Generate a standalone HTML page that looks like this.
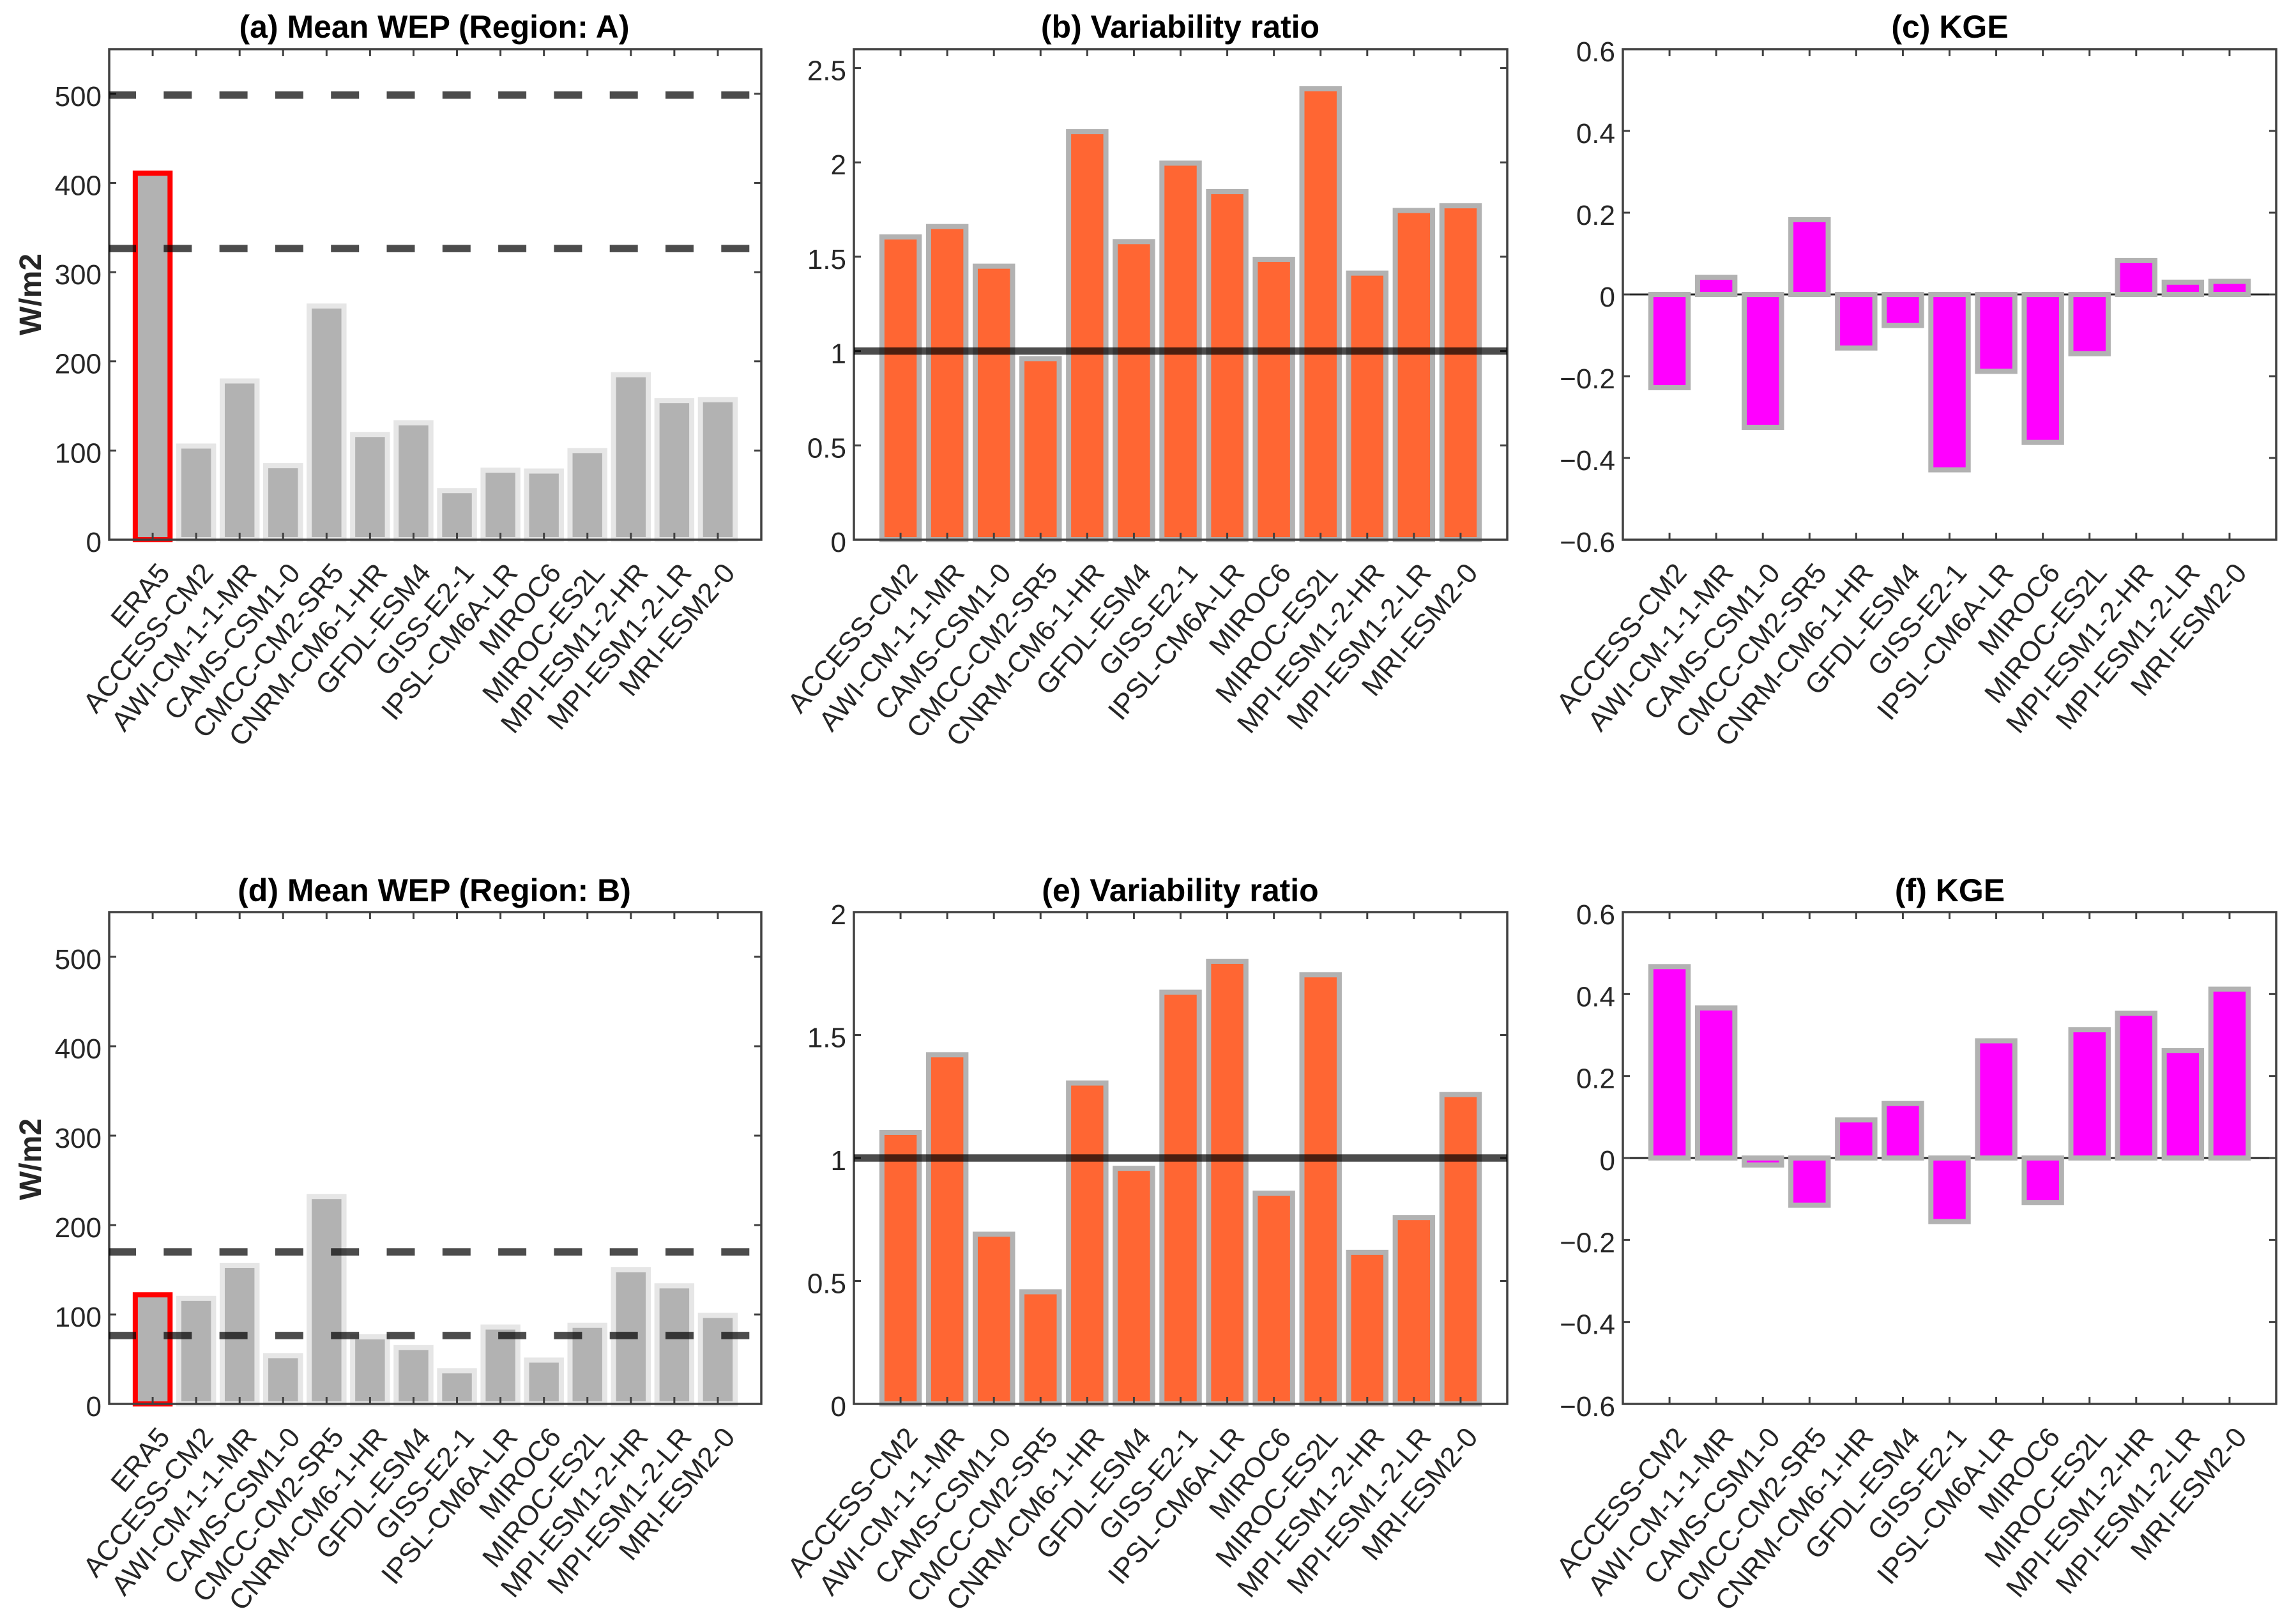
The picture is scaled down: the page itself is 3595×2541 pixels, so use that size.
<!DOCTYPE html>
<html lang="en">
<head>
<meta charset="utf-8">
<title>Climate model evaluation bar charts</title>
<style>
html,body{margin:0;padding:0;background:#fff;}
svg{display:block;font-family:"Liberation Sans",Arial,sans-serif;}
.title{font-size:50px;font-weight:bold;fill:#000;text-anchor:middle;}
.ylab{font-size:48px;font-weight:bold;fill:#262626;text-anchor:middle;}
.ytick{font-size:44px;fill:#262626;text-anchor:end;}
.xtick{font-size:44px;fill:#262626;text-anchor:end;}
</style>
</head>
<body>
<svg id="figure" xmlns="http://www.w3.org/2000/svg" width="3595" height="2541" viewBox="0 0 3595 2541">
  <rect x="0" y="0" width="3595" height="2541" fill="#ffffff"/>
  <g id="panel-a"></g>
  <g id="panel-b"></g>
  <g id="panel-c"></g>
  <g id="panel-d"></g>
  <g id="panel-e"></g>
  <g id="panel-f"></g>
  <text class="title" x="680" y="59">(a) Mean WEP (Region: A)</text>
  <text class="title" x="1848" y="59">(b) Variability ratio</text>
  <text class="title" x="3053" y="59">(c) KGE</text>
  <text class="title" x="680" y="1411">(d) Mean WEP (Region: B)</text>
  <text class="title" x="1848" y="1411">(e) Variability ratio</text>
  <text class="title" x="3053" y="1411">(f) KGE</text>
  <text class="ylab" transform="translate(64,461) rotate(-90)">W/m2</text>
  <text class="ylab" transform="translate(64,1815) rotate(-90)">W/m2</text>
</svg>
<script>
// ---- categories ----
const modelNames = ['ACCESS-CM2','AWI-CM-1-1-MR','CAMS-CSM1-0','CMCC-CM2-SR5','CNRM-CM6-1-HR','GFDL-ESM4','GISS-E2-1','IPSL-CM6A-LR','MIROC6','MIROC-ES2L','MPI-ESM1-2-HR','MPI-ESM1-2-LR','MRI-ESM2-0'];
const wepNames = ['ERA5'].concat(modelNames);

// ---- series values ----
const wepRegionA = [411,105,178,83,262,118,131,55,78,77,100,185,156,157];
const wepRegionB = [122,118,155,54,232,75,63,37,86,49,88,150,132,99];
const variabilityA = [1.605,1.66,1.45,0.96,2.163,1.58,1.996,1.845,1.486,2.39,1.413,1.745,1.77];
const variabilityB = [1.104,1.42,0.69,0.456,1.305,0.958,1.674,1.80,0.857,1.745,0.616,0.758,1.258];
const kgeA = [-0.228,0.042,-0.325,0.183,-0.131,-0.076,-0.429,-0.188,-0.362,-0.145,0.083,0.03,0.032];
const kgeB = [0.467,0.366,-0.017,-0.115,0.093,0.133,-0.155,0.286,-0.109,0.313,0.353,0.262,0.412];

// ---- reference lines ----
const wepRangeA = [498.5,326.5];
const wepRangeB = [170,76.5];
const unitRatio = [1];

// ---- tick values and labels ----
const wepTicks = [0,100,200,300,400,500];
const wepTickLabels = ['0','100','200','300','400','500'];
const ratioTicksA = [0,0.5,1,1.5,2,2.5];
const ratioTickLabelsA = ['0','0.5','1','1.5','2','2.5'];
const ratioTicksB = [0,0.5,1,1.5,2];
const ratioTickLabelsB = ['0','0.5','1','1.5','2'];
const kgeTicks = [-0.6,-0.4,-0.2,0,0.2,0.4,0.6];
const kgeTickLabels = ['\u22120.6','\u22120.4','\u22120.2','0','0.2','0.4','0.6'];

const NS = 'http://www.w3.org/2000/svg';
function make(parent, tag, attrs, text) {
  const el = document.createElementNS(NS, tag);
  for (const k in attrs) el.setAttribute(k, attrs[k]);
  if (text !== undefined) el.textContent = text;
  parent.appendChild(el);
  return el;
}

function drawPanel(cfg) {
  const g = document.getElementById(cfg.id);
  const n = cfg.names.length;
  const step = (cfg.right - cfg.left) / (n + 1);
  const xScale = i => cfg.left + step * (i + 1);
  const yScale = v => cfg.bottom - (v - cfg.ymin) / (cfg.ymax - cfg.ymin) * (cfg.bottom - cfg.top);
  const y0 = yScale(Math.max(0, cfg.ymin));
  const axisColor = '#404040';

  if (cfg.ymin < 0) {
    const base = make(g, 'line', {x1: cfg.left, x2: cfg.right, y1: y0, y2: y0, stroke: '#262626', 'stroke-width': 3});
    
    
  }

  cfg.values.forEach((v, i) => {
    const yv = yScale(v);
    const bw = step * 0.8;
    const isRef = cfg.highlightFirst && i === 0;
    const bar = make(g, 'rect', {
      x: xScale(i) - bw / 2,
      y: Math.min(yv, y0),
      width: bw,
      height: Math.abs(yv - y0),
      fill: cfg.fill,
      stroke: isRef ? '#ff0000' : cfg.edge,
      'stroke-width': 8
    });
    
    
  });

  const frame = make(g, 'rect', {x: cfg.left, y: cfg.top, width: cfg.right - cfg.left, height: cfg.bottom - cfg.top, fill: 'none', stroke: axisColor, 'stroke-width': 3.5});
  
  

  cfg.ticks.forEach((t, i) => {
    const y = yScale(t);
    const tl = make(g, 'line', {x1: cfg.left, x2: cfg.left + 11, y1: y, y2: y, stroke: axisColor, 'stroke-width': 3});
    
    
    const tr = make(g, 'line', {x1: cfg.right, x2: cfg.right - 11, y1: y, y2: y, stroke: axisColor, 'stroke-width': 3});
    
    
    const lab = make(g, 'text', {class: 'ytick', x: cfg.left - 12, y: y + 19}, cfg.tickLabels[i]);
    
    
  });

  cfg.names.forEach((name, i) => {
    const x = xScale(i);
    const tb = make(g, 'line', {x1: x, x2: x, y1: cfg.bottom, y2: cfg.bottom - 11, stroke: axisColor, 'stroke-width': 3});
    
    
    const tt = make(g, 'line', {x1: x, x2: x, y1: cfg.top, y2: cfg.top + 11, stroke: axisColor, 'stroke-width': 3});
    
    
    const lx = x + 29, ly = cfg.bottom + 53;
    const lab = make(g, 'text', {class: 'xtick', x: lx, y: ly, transform: 'rotate(-50 ' + lx + ' ' + ly + ')'}, name);
    
    
  });

  cfg.lines.forEach(v => {
    const y = yScale(v);
    const attrs = {x1: cfg.left, x2: cfg.right, y1: y, y2: y, stroke: '#000000', 'stroke-opacity': 0.7, 'stroke-width': 11.5};
    if (cfg.dashed) {
      attrs['stroke-dasharray'] = '44 43.3';
      attrs['stroke-dashoffset'] = '2';
    }
    const line = make(g, 'line', attrs);
    
    
  });
}

const greyFill = '#b2b2b2', greyEdge = '#e6e6e6', midEdge = '#b2b2b2';

drawPanel({id:'panel-a', left:171, right:1192, top:77, bottom:845, ymin:0, ymax:550, names:wepNames, values:wepRegionA, ticks:wepTicks, tickLabels:wepTickLabels, fill:greyFill, edge:greyEdge, highlightFirst:true, lines:wepRangeA, dashed:true});
drawPanel({id:'panel-b', left:1337, right:2360, top:77, bottom:845, ymin:0, ymax:2.6, names:modelNames, values:variabilityA, ticks:ratioTicksA, tickLabels:ratioTickLabelsA, fill:'#ff6633', edge:midEdge, lines:unitRatio});
drawPanel({id:'panel-c', left:2541, right:3564, top:77, bottom:845, ymin:-0.6, ymax:0.6, names:modelNames, values:kgeA, ticks:kgeTicks, tickLabels:kgeTickLabels, fill:'#ff00ff', edge:midEdge, lines:[]});
drawPanel({id:'panel-d', left:171, right:1192, top:1428, bottom:2198, ymin:0, ymax:550, names:wepNames, values:wepRegionB, ticks:wepTicks, tickLabels:wepTickLabels, fill:greyFill, edge:greyEdge, highlightFirst:true, lines:wepRangeB, dashed:true});
drawPanel({id:'panel-e', left:1337, right:2360, top:1428, bottom:2198, ymin:0, ymax:2, names:modelNames, values:variabilityB, ticks:ratioTicksB, tickLabels:ratioTickLabelsB, fill:'#ff6633', edge:midEdge, lines:unitRatio});
drawPanel({id:'panel-f', left:2541, right:3564, top:1428, bottom:2198, ymin:-0.6, ymax:0.6, names:modelNames, values:kgeB, ticks:kgeTicks, tickLabels:kgeTickLabels, fill:'#ff00ff', edge:midEdge, lines:[]});
</script>
</body>
</html>
